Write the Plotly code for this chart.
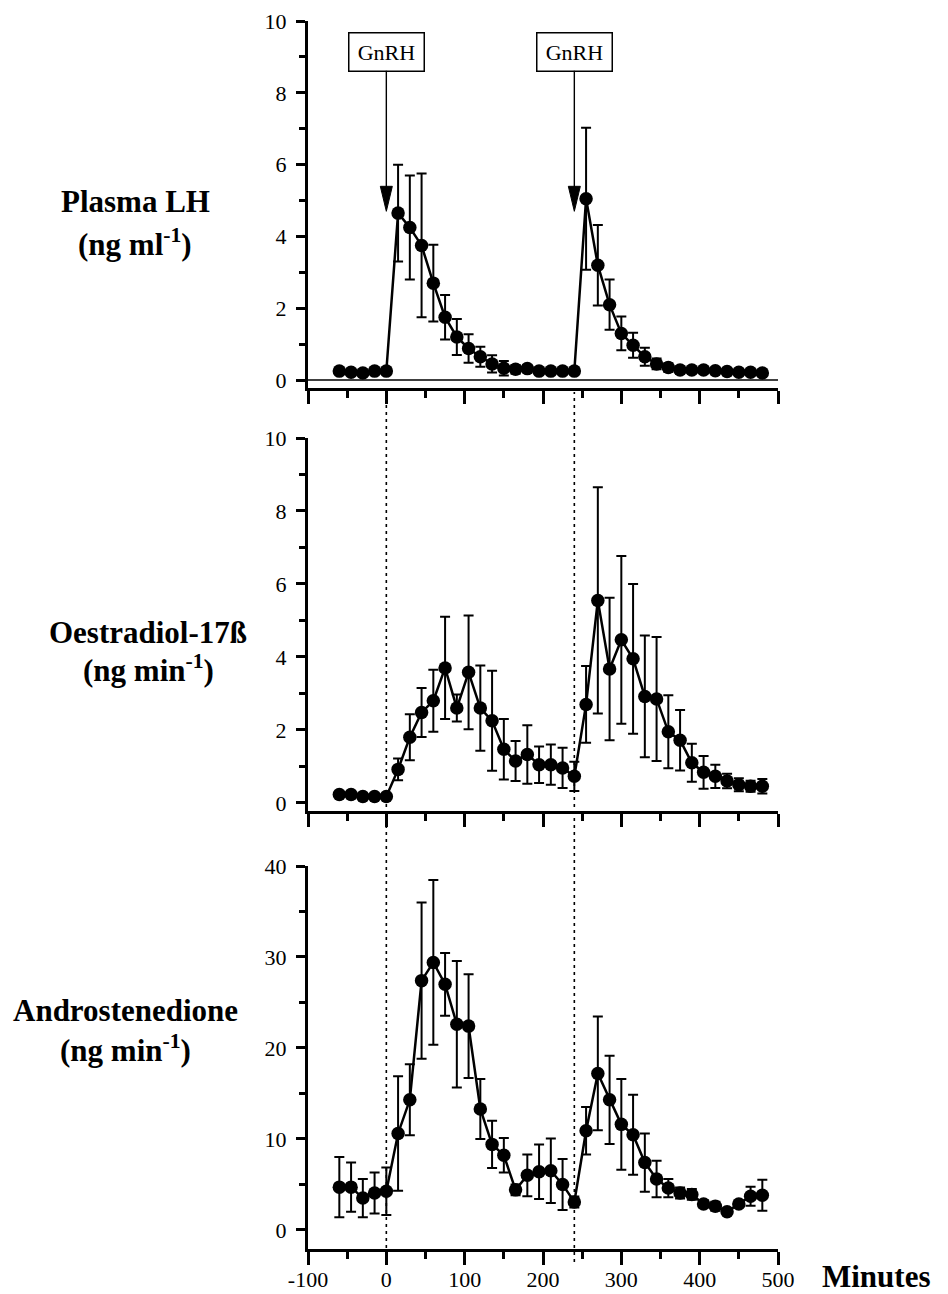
import plotly.graph_objects as go

# ---------------- data ----------------
minutes = [-60, -45, -30, -15, 0, 15, 30, 45, 60, 75, 90, 105, 120, 135, 150, 165,
           180, 195, 210, 225, 240, 255, 270, 285, 300, 315, 330, 345, 360, 375,
           390, 405, 420, 435, 450, 465, 480]

lh = [0.25, 0.22, 0.2, 0.25, 0.25,
      4.65, 4.25, 3.75, 2.7, 1.75, 1.2, 0.88, 0.65, 0.45, 0.33, 0.3, 0.32, 0.25, 0.25, 0.25, 0.25,
      5.05, 3.2, 2.1, 1.3, 0.97, 0.65, 0.45, 0.35, 0.28, 0.28, 0.28, 0.26, 0.24, 0.22, 0.22, 0.2]
lh_err = [0.05, 0.08, 0.08, 0.05, 0.05,
          1.35, 1.45, 2.0, 1.07, 0.62, 0.5, 0.4, 0.28, 0.24, 0.2, 0.12, 0.1, 0.05, 0.05, 0.05, 0.05,
          1.98, 1.12, 0.7, 0.47, 0.35, 0.25, 0.15, 0.12, 0.1, 0.08, 0.06, 0.05, 0.05, 0.05, 0.05, 0.05]

e2 = [0.23, 0.23, 0.18, 0.18, 0.18,
      0.92, 1.8, 2.48, 2.8, 3.7, 2.6, 3.58, 2.6, 2.25, 1.47, 1.15, 1.33, 1.05, 1.05, 0.96, 0.73,
      2.7, 5.55, 3.67, 4.47, 3.95, 2.92, 2.85, 1.95, 1.72, 1.1, 0.84, 0.73, 0.6, 0.5, 0.46, 0.46]
e2_err = [0, 0, 0, 0, 0,
          0.3, 0.63, 0.67, 0.85, 1.4, 0.37, 1.56, 1.17, 1.37, 0.83, 0.55, 0.8, 0.5, 0.55, 0.55, 0.4,
          1.05, 3.1, 1.95, 2.3, 2.05, 1.67, 1.7, 1.0, 0.83, 0.52, 0.45, 0.32, 0.2, 0.18, 0.15, 0.2]

a4 = [4.7, 4.7, 3.5, 4.06, 4.25,
      10.6, 14.3, 27.4, 29.4, 27.0, 22.6, 22.4, 13.3, 9.4, 8.2, 4.4, 6.0, 6.4, 6.5, 5.0, 3.07,
      10.9, 17.2, 14.3, 11.6, 10.45, 7.4, 5.6, 4.6, 4.06, 3.9, 2.85, 2.6, 2.0, 2.85, 3.7, 3.8]
a4_err = [3.3, 2.7, 2.1, 2.25, 2.6,
          6.3, 3.9, 8.6, 9.05, 3.45, 6.95, 5.7, 3.3, 2.6, 1.9, 0.6, 2.3, 3.0, 3.55, 2.8, 0.6,
          2.6, 6.25, 4.85, 5.0, 4.4, 3.2, 2.0, 1.0, 0.6, 0.6, 0.4, 0.5, 0.2, 0.3, 1.05, 1.7]

gnrh_times = [0, 240]
gnrh_arrow_tip = 4.7
gnrh_box_y = 9.15

x_tickvals = [-100, 0, 100, 200, 300, 400, 500]
x_ticktext = ["-100", "0", "100", "200", "300", "400", "500"]
panel_titles = [("Plasma LH", "(ng ml<sup>-1</sup>)"),
                ("Oestradiol-17ß", "(ng min<sup>-1</sup>)"),
                ("Androstenedione", "(ng min<sup>-1</sup>)")]

# ---------------- figure ----------------
PAGE_W, PAGE_H = 948, 1294
BODY = 8                      # default page margin around the plot div
W, H = PAGE_W - BODY, PAGE_H - BODY
SERIF = "Liberation Serif, Times New Roman, serif"

def px_x(p):
    """page pixel -> paper fraction"""
    return (p - BODY) / W

def px_y(p):
    return (H - (p - BODY)) / H

fig = go.Figure()

series = [(lh, lh_err, "x", "y"), (e2, e2_err, "x2", "y2"), (a4, a4_err, "x3", "y3")]
for vals, errs, xa, ya in series:
    fig.add_trace(go.Scatter(
        x=minutes, y=vals, xaxis=xa, yaxis=ya, mode="lines+markers",
        line=dict(color="black", width=2.5),
        marker=dict(color="black", size=13.5),
        error_y=dict(type="data", array=errs, visible=True, color="black",
                     thickness=2, width=5),
        showlegend=False, hoverinfo="skip"))

X_LEFT_PX, X_RIGHT_PX = 308, 778
X_RANGE = [-100, 500]
xdom = [px_x(X_LEFT_PX), px_x(X_RIGHT_PX)]
ypx = [(21, 388), (438, 811), (866, 1249)]
ydoms = [[px_y(b), px_y(t)] for t, b in ypx]
yranges = [[-0.22, 10], [-0.22, 10], [-2.1, 40]]
ydticks = [2, 2, 10]
yminor = [1, 1, 5]

layout = dict(
    width=W, height=H, margin=dict(l=0, r=0, t=0, b=0, autoexpand=False),
    paper_bgcolor="white", plot_bgcolor="white",
    font=dict(family=SERIF, color="black", size=22),
)

for i in range(3):
    sx = "" if i == 0 else str(i + 1)
    xaxis = dict(
        domain=xdom, range=X_RANGE, anchor="y" + sx,
        showline=True, linecolor="black", linewidth=3,
        ticks="outside", ticklen=13, tickwidth=2.5, tickcolor="black",
        tickvals=x_tickvals, ticktext=x_ticktext, showgrid=False, zeroline=False,
        minor=dict(dtick=50, tick0=0, ticks="outside", ticklen=7,
                   tickwidth=2.5, tickcolor="black", showgrid=False),
        showticklabels=(i == 2), automargin=False, ticklabeloverflow="allow",
        tickfont=dict(family=SERIF, size=22, color="black"),
        ticklabelstandoff=-4,
    )
    yaxis = dict(
        domain=ydoms[i], range=yranges[i], anchor="x" + sx,
        showline=True, linecolor="black", linewidth=3,
        ticks="outside", ticklen=9, tickwidth=2.5, tickcolor="black",
        tick0=0, dtick=ydticks[i], showgrid=False, zeroline=False,
        minor=dict(dtick=yminor[i], tick0=0, ticks="outside", ticklen=6,
                   tickwidth=2.5, tickcolor="black", showgrid=False),
        automargin=False, ticklabeloverflow="allow",
        tickfont=dict(family=SERIF, size=22, color="black"),
        ticklabelstandoff=5,
    )
    layout["xaxis" + sx] = xaxis
    layout["yaxis" + sx] = yaxis

fig.update_layout(**layout)

# thin upper line of the top panel's double baseline
fig.add_shape(type="line", xref="x", yref="y", x0=X_RANGE[0], x1=X_RANGE[1], y0=0, y1=0,
              line=dict(color="black", width=1.5))

# dotted injection lines through the lower panels
for t in gnrh_times:
    fig.add_shape(type="line", xref="x3", yref="paper", x0=t, x1=t,
                  y0=px_y(1262), y1=px_y(392),
                  line=dict(color="black", width=1.6, dash="3px,4px"))

# GnRH boxes with arrows (narrow filled arrow heads drawn as paths)
min_per_px = (X_RANGE[1] - X_RANGE[0]) / (X_RIGHT_PX - X_LEFT_PX)
unit_per_px = (yranges[0][1] - yranges[0][0]) / (ypx[0][1] - ypx[0][0])
head_half_w = 6 * min_per_px
head_len = 25 * unit_per_px
for t in gnrh_times:
    fig.add_annotation(
        x=t, y=gnrh_arrow_tip + head_len * 0.5, xref="x", yref="y",
        ax=t, ay=gnrh_box_y, axref="x", ayref="y",
        text="GnRH", showarrow=True, arrowhead=0, arrowwidth=1.4,
        arrowcolor="black", bordercolor="black", borderwidth=1.5, borderpad=3,
        bgcolor="white", width=68, height=31,
        font=dict(family=SERIF, size=22, color="black"))
    fig.add_shape(
        type="path", xref="x", yref="y",
        path=(f"M {t - head_half_w},{gnrh_arrow_tip + head_len} "
              f"L {t + head_half_w},{gnrh_arrow_tip + head_len} "
              f"L {t},{gnrh_arrow_tip} Z"),
        fillcolor="black", line=dict(color="black", width=1))

# left-hand panel titles
title_pos = [(135, 201, 242), (148, 632, 669), (126, 1010, 1048)]
for (l1, l2), (cx, y1, y2) in zip(panel_titles, title_pos):
    for txt, yy in ((l1, y1), (l2, y2)):
        fig.add_annotation(x=px_x(cx), y=px_y(yy), xref="paper", yref="paper",
                           text="<b>" + txt + "</b>", showarrow=False,
                           xanchor="center", yanchor="middle",
                           font=dict(family=SERIF, size=31, color="black"))

# x-axis title
fig.add_annotation(x=px_x(876), y=px_y(1276), xref="paper", yref="paper",
                   text="<b>Minutes</b>", showarrow=False,
                   xanchor="center", yanchor="middle",
                   font=dict(family=SERIF, size=31, color="black"))

fig.write_html("out.html")
